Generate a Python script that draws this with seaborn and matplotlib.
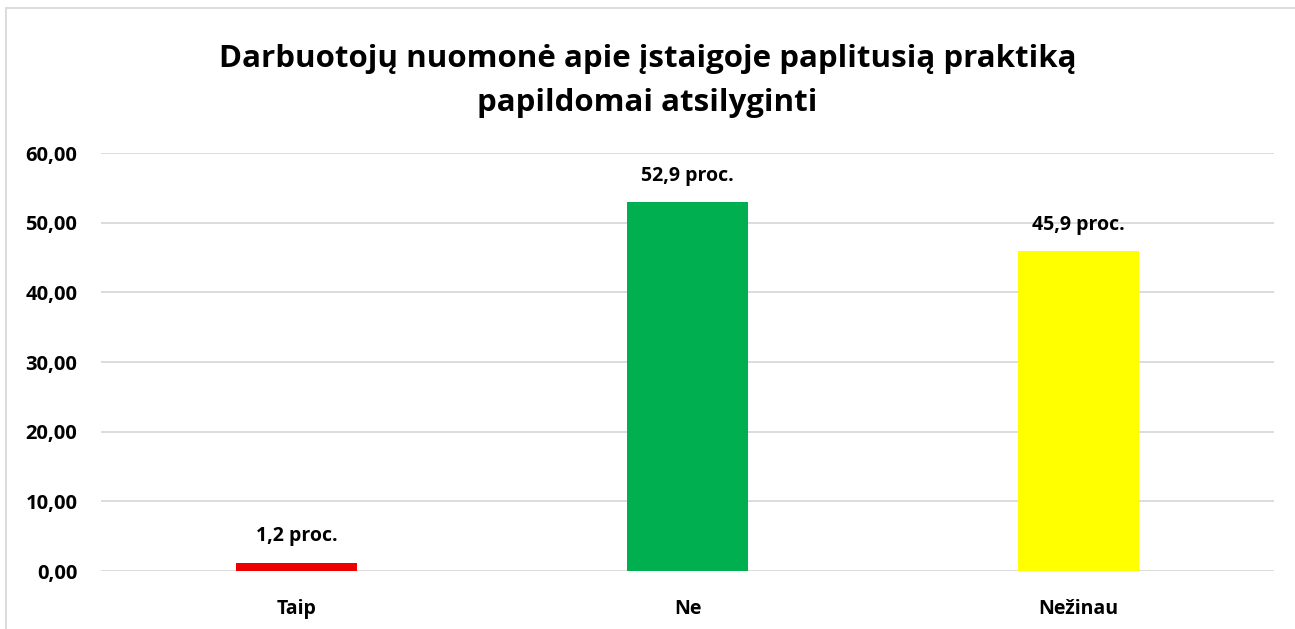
import matplotlib
matplotlib.use("Agg")
import matplotlib.pyplot as plt
import seaborn as sns
import pandas as pd
from matplotlib.patches import Rectangle

# data
answers = ["Taip", "Ne", "Nežinau"]
percent = [1.2, 52.9, 45.9]
bar_colors = ["#ee0000", "#00b050", "#ffff00"]
y_ticks = [0, 10, 20, 30, 40, 50, 60]

df = pd.DataFrame({"answer": answers, "pct": percent})

sns.set_style("white")
plt.rcParams["font.family"] = ["Open Sans", "DejaVu Sans"]
plt.rcParams["text.color"] = "black"
plt.rcParams["xtick.color"] = "black"
plt.rcParams["ytick.color"] = "black"

fig = plt.figure(figsize=(12.95, 6.29), dpi=100)
ax = fig.add_axes([101 / 1295, 1 - 571 / 629, (1274 - 101) / 1295, (571 - 153) / 629])

sns.barplot(data=df, x="answer", y="pct", hue="answer", palette=bar_colors,
            width=0.31, legend=False, saturation=1, linewidth=0, ax=ax)

ax.set_ylim(0, 60)
ax.set_yticks(y_ticks)
ax.set_yticklabels([f"{v:.2f}".replace(".", ",") for v in y_ticks],
                   fontsize=14.5, fontweight="bold")
ax.set_xlim(-0.5, 2.5)
for lbl in ax.get_xticklabels():
    lbl.set_fontsize(14)
    lbl.set_fontweight("bold")
ax.tick_params(axis="both", length=0)
ax.tick_params(axis="y", pad=17)
ax.tick_params(axis="x", pad=20)
ax.set_xlabel("")
ax.set_ylabel("")
ax.yaxis.grid(True, color="#d9d9d9", linewidth=1.3)
ax.set_axisbelow(True)
for s in ax.spines.values():
    s.set_visible(False)

for i, v in enumerate(percent):
    ax.annotate(f"{v:.1f}".replace(".", ",") + " proc.", (i, v),
                xytext=(0, 12), textcoords="offset points", ha="center",
                va="bottom", fontsize=14, fontweight="bold")

fig.text(0.5, 1 - 81 / 629, "Darbuotojų nuomonė apie įstaigoje paplitusią praktiką\npapildomai atsilyginti",
         ha="center", va="center", fontsize=22.5, fontweight="bold", linespacing=1.6)

fig.patches.append(Rectangle((6 / 1295, -0.01), 1.1, 1 - 8 / 629 + 0.01,
                             transform=fig.transFigure, fill=False,
                             edgecolor="#d9d9d9", linewidth=1.3))

fig.savefig("out.png", dpi=100)
